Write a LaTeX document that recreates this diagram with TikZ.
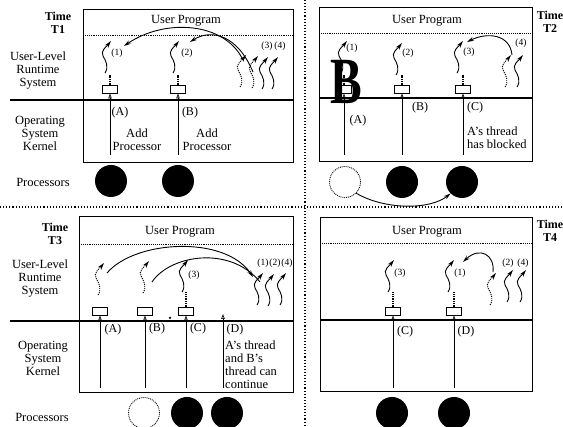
\documentclass[tikz,border=0pt]{standalone}
\usepackage{fontspec}
\setmainfont{Liberation Serif}
\usetikzlibrary{arrows.meta}

\begin{document}
\begin{tikzpicture}[
    x=1pt, y=-1pt,
    font=\fontsize{12.5}{13}\selectfont,
    lbl/.style={align=center, inner sep=0pt},
    timelbl/.style={align=center, inner sep=0pt, font=\fontsize{12}{13}\selectfont\bfseries},
    num/.style={inner sep=0pt, font=\fontsize{9.5}{10}\selectfont},
    tag/.style={inner sep=0pt, font=\fontsize{12}{13}\selectfont},
    panel/.style={draw, line width=1pt},
    divider/.style={dotted, line width=1.1pt},
    upper/.style={densely dotted, line width=0.9pt},
    kline/.style={line width=2pt},
    slot/.style={draw, line width=0.9pt, minimum width=15pt, minimum height=8pt, inner sep=0pt},
    kern/.style={-{Triangle[open,length=5pt,width=3.5pt]}, line width=0.7pt},
    stem/.style={densely dotted, line width=1.3pt},
    idlethread/.style={densely dotted, line width=1.1pt},
    cpu/.style={circle, fill=black, minimum size=32pt, inner sep=0pt},
    idle/.style={circle, draw, densely dotted, line width=0.9pt, minimum size=31pt, inner sep=0pt},
    hop/.style={-{Stealth[length=7pt,width=4pt]}, line width=0.9pt},
    thread/.pic={
      \draw[-{Stealth[open,length=7pt,width=4pt,inset=1.8pt]}, line width=0.9pt, pic actions]
        (0,0) .. controls (4,-6) and (1,-12) .. (-2,-17) .. controls (-5,-22) and (2,-27) .. (6,-32);
      \coordinate (-tip) at (6,-32);
    },
  ]
\useasboundingbox (0,0) rectangle (563,427);

% Page dividers
\draw[divider] (0,207) -- (563,207);
\draw[divider] (305,0) -- (305,427);

% ---------------- Time T1 ----------------
\draw[panel] (83,10) rectangle (293,163);
\draw[upper] (83,35) -- (293,35);
\draw[kline] (10,100) -- (293,100);
\node[timelbl] (t1time) at (58,23) {Time\\T1};
\node[lbl] (t1prog) at (186,21) {User Program};
\node[lbl] (t1user) at (38,71) {User-Level\\Runtime\\System};
\node[lbl] (t1os) at (40,133) {Operating\\System\\Kernel};
\node[lbl] (t1cpus) at (43,182) {Processors};

\pic (t1one) at (105,73) {thread};
\pic (t1two) at (173,73) {thread};
\pic[idlethread] (t1d1) at (240,87) {thread};
\pic[idlethread] (t1d2) at (252,88) {thread};
\pic (t1three) at (262,89) {thread};
\pic (t1four) at (272,89) {thread};
\node[num] (t1n1) at (117,53) {(1)};
\node[num] (t1n2) at (187,53) {(2)};
\node[num] (t1n3) at (267,46) {(3)};
\node[num] (t1n4) at (280,46) {(4)};

\foreach \n/\x in {t1A/110, t1B/178} {
  \node[slot] (\n) at (\x,89) {};
  \coordinate (\n-k) at (\x,155);
  \draw[kern] (\n-k) -- (\n);
  \draw[stem] (\n) -- ++(0,-14);
}
\node[tag] (t1tA) at (120,113) {(A)};
\node[tag] (t1tB) at (190,113) {(B)};
\node[lbl] (t1addA) at (137,140) {Add\\Processor};
\node[lbl] (t1addB) at (207,140) {Add\\Processor};

\coordinate (t1from1) at (243,60);
\coordinate (t1to1) at (124,46);
\coordinate (t1from2) at (253,72);
\coordinate (t1to2) at (190,42);
\draw[hop] (t1from1) .. controls (225,22) and (165,18) .. (t1to1);
\draw[hop] (t1from2) .. controls (238,36) and (212,28) .. (t1to2);

\node[cpu] (t1p1) at (111,181) {};
\node[cpu] (t1p2) at (178,181) {};

% ---------------- Time T2 ----------------
\draw[panel] (319,8) rectangle (532,162);
\draw[upper] (319,33) -- (532,33);
\draw[kline] (319,98) -- (532,98);
\node[timelbl] (t2time) at (550,22) {Time\\T2};
\node[lbl] (t2prog) at (427,21) {User Program};

\pic (t2one) at (341,73) {thread};
\pic (t2two) at (396,75) {thread};
\pic (t2three) at (457,73) {thread};
\pic[idlethread] (t2d4) at (505,87) {thread};
\pic (t2four) at (517,87) {thread};
\node[num] (t2n1) at (352,48) {(1)};
\node[num] (t2n2) at (408,53) {(2)};
\node[num] (t2n3) at (469,52) {(3)};
\node[num] (t2n4) at (521,43) {(4)};

\foreach \n/\x in {t2A/344, t2B/402, t2C/463} {
  \node[slot] (\n) at (\x,89) {};
  \coordinate (\n-k) at (\x,155);
  \draw[kern] (\n-k) -- (\n);
  \draw[stem] (\n) -- ++(0,-14);
}
\node[tag] (t2tA) at (358,121) {(A)};
\node[tag] (t2tB) at (420,108) {(B)};
\node[tag] (t2tC) at (475,108) {(C)};
\node[lbl, align=left, anchor=west] (t2note) at (467,138) {A's thread\\has blocked};

\coordinate (t2from) at (512,55);
\coordinate (t2to) at (467,42);
\draw[hop] (t2from) .. controls (510,34) and (487,32) .. (t2to);

\node[idle] (t2p1) at (345,182) {};
\node[cpu] (t2p2) at (402,182) {};
\node[cpu] (t2p3) at (462,182) {};
\draw[hop] (t2p1.south east) .. controls (385,210) and (430,210) .. (t2p3.225);

\node[inner sep=0pt, font=\fontsize{66}{66}\selectfont\bfseries] (bigB) at (346,82) {\scalebox{0.72}[1]{B}};

% ---------------- Time T3 ----------------
\draw[panel] (79,217) rectangle (293,393);
\draw[upper] (79,244) -- (293,244);
\draw[kline] (10,321) -- (293,321);
\node[timelbl] (t3time) at (55,234) {Time\\T3};
\node[lbl] (t3prog) at (180,232) {User Program};
\node[lbl] (t3user) at (40,279) {User-Level\\Runtime\\System};
\node[lbl] (t3os) at (43,358) {Operating\\System\\Kernel};
\node[lbl] (t3cpus) at (42,417) {Processors};

\pic[idlethread] (t3dA) at (98,295) {thread};
\pic[idlethread] (t3dB) at (143,293) {thread};
\pic (t3three) at (182,292) {thread};
\pic (t3one) at (257,305) {thread};
\pic (t3two) at (268,306) {thread};
\pic (t3four) at (280,305) {thread};
\node[num] (t3n3) at (194,275) {(3)};
\node[num] (t3n1) at (263,263) {(1)};
\node[num] (t3n2) at (275,263) {(2)};
\node[num] (t3n4) at (287,263) {(4)};

\foreach \n/\x in {t3A/100, t3B/145, t3C/186} {
  \node[slot] (\n) at (\x,311) {};
  \coordinate (\n-k) at (\x,388);
  \draw[kern] (\n-k) -- (\n);
}
\draw[stem] (t3C) -- ++(0,-19);
\coordinate (t3D) at (223,314);
\coordinate (t3D-k) at (223,388);
\draw[kern] (t3D-k) -- (t3D);
\node[circle, fill, inner sep=0pt, minimum size=2.5pt] (t3dot) at (170,318) {};
\node[tag] (t3tA) at (113,330) {(A)};
\node[tag] (t3tB) at (157,329) {(B)};
\node[tag] (t3tC) at (198,329) {(C)};
\node[tag] (t3tD) at (235,330) {(D)};
\node[lbl, align=left, anchor=west] (t3note) at (225,365) {A's thread\\and B's\\thread can\\continue};

\coordinate (t3fromA) at (107,273);
\coordinate (t3to1) at (253,277);
\coordinate (t3fromB) at (152,282);
\coordinate (t3to2) at (260,282);
\draw[hop] (t3fromA) .. controls (135,240) and (225,235) .. (t3to1);
\draw[line width=0.9pt] (t3fromB) .. controls (170,255) and (230,245) .. (t3to2);

\node[idle] (t3p1) at (144,413) {};
\node[cpu] (t3p2) at (187,413) {};
\node[cpu] (t3p3) at (227,413) {};

% ---------------- Time T4 ----------------
\draw[panel] (320,218) rectangle (532,392);
\draw[upper] (320,243) -- (532,243);
\draw[kline] (320,320) -- (532,320);
\node[timelbl] (t4time) at (550,231) {Time\\T4};
\node[lbl] (t4prog) at (427,232) {User Program};

\pic (t4three) at (388,292) {thread};
\pic (t4one) at (448,292) {thread};
\pic[idlethread] (t4d2) at (490,305) {thread};
\pic (t4two) at (507,302) {thread};
\pic (t4four) at (520,302) {thread};
\node[num] (t4n3) at (400,273) {(3)};
\node[num] (t4n1) at (460,273) {(1)};
\node[num] (t4n2) at (508,263) {(2)};
\node[num] (t4n4) at (523,263) {(4)};

\foreach \n/\x in {t4C/393, t4D/454} {
  \node[slot] (\n) at (\x,311) {};
  \coordinate (\n-k) at (\x,388);
  \draw[kern] (\n-k) -- (\n);
  \draw[stem] (\n) -- ++(0,-19);
}
\node[tag] (t4tC) at (405,332) {(C)};
\node[tag] (t4tD) at (466,332) {(D)};

\coordinate (t4from) at (493,272);
\coordinate (t4to) at (463,262);
\draw[hop] (t4from) .. controls (495,255) and (480,246) .. (t4to);

\node[cpu] (t4p1) at (392,413) {};
\node[cpu] (t4p2) at (454,413) {};

\end{tikzpicture}
\end{document}
